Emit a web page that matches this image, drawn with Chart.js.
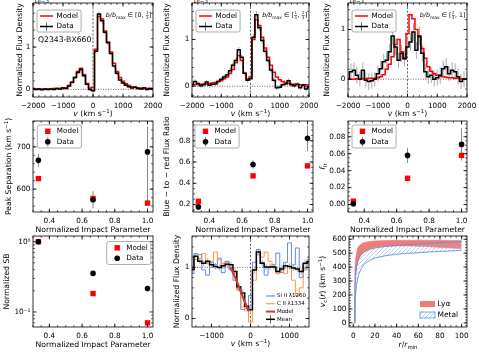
<!DOCTYPE html>
<html>
<head>
<meta charset="utf-8">
<title>Q2343-BX660 profiles</title>
<script src="https://cdn.jsdelivr.net/npm/chart.js@4.4.1/dist/chart.umd.min.js"></script>
<style>
  html, body { margin: 0; padding: 0; background: #fff; }
  body { position: relative; width: 479px; height: 352px; overflow: hidden; }
  canvas { position: absolute; }
</style>
</head>
<body>
<script>
// ---- values ----
const velocity = [-2000, -1900, -1800, -1700, -1600, -1500, -1400, -1300, -1200, -1100, -1000, -900, -800, -700, -600, -500, -400, -300, -200, -100, 0, 100, 200, 300, 400, 500, 600, 700, 800, 900, 1000, 1100, 1200, 1300, 1400, 1500, 1600, 1700, 1800, 1900, 2000];

// flux densities in units of 1e-3
const fluxData1 = [0.02, 0.00, 0.01, -0.01, 0.01, 0.00, 0.01, 0.00, 0.02, 0.01, 0.03, 0.02, 0.08, 0.17, 0.28, 0.40, 0.47, 0.32, 0.12, 0.00, -0.03, 0.90, 1.78, 1.62, 1.35, 1.10, 0.85, 0.55, 0.38, 0.22, 0.15, 0.10, 0.06, 0.03, 0.05, 0.02, 0.01, 0.03, 0.00, 0.02, 0.01];
const fluxModel1 = [0.01, 0.01, 0.01, 0.01, 0.01, 0.01, 0.01, 0.02, 0.02, 0.02, 0.03, 0.04, 0.09, 0.16, 0.28, 0.42, 0.50, 0.35, 0.14, 0.03, 0.05, 0.95, 1.72, 1.66, 1.38, 1.12, 0.88, 0.62, 0.42, 0.28, 0.19, 0.13, 0.09, 0.06, 0.05, 0.04, 0.03, 0.03, 0.02, 0.02, 0.02];
const fluxErr1 = [0.03, 0.03, 0.03, 0.03, 0.03, 0.03, 0.03, 0.03, 0.03, 0.03, 0.03, 0.03, 0.03, 0.03, 0.04, 0.04, 0.04, 0.04, 0.03, 0.03, 0.03, 0.05, 0.06, 0.06, 0.05, 0.05, 0.04, 0.04, 0.04, 0.03, 0.03, 0.03, 0.03, 0.03, 0.03, 0.03, 0.03, 0.03, 0.03, 0.03, 0.03];

const fluxData2 = [0.03, 0.10, 0.06, 0.01, 0.03, 0.09, 0.02, 0.04, 0.05, 0.10, 0.15, 0.20, 0.24, 0.33, 0.45, 0.55, 0.78, 0.62, 0.28, 0.13, 0.16, 1.05, 1.53, 1.25, 0.98, 0.75, 0.55, 0.35, 0.13, -0.03, -0.02, 0.03, 0.05, 0.12, 0.03, 0.01, 0.04, -0.03, 0.02, -0.06, -0.02];
const fluxModel2 = [0.03, 0.03, 0.04, 0.04, 0.05, 0.05, 0.06, 0.07, 0.08, 0.10, 0.12, 0.16, 0.20, 0.27, 0.36, 0.50, 0.66, 0.55, 0.28, 0.15, 0.20, 1.00, 1.42, 1.30, 1.05, 0.82, 0.62, 0.45, 0.30, 0.20, 0.14, 0.10, 0.08, 0.06, 0.05, 0.04, 0.04, 0.03, 0.03, 0.03, 0.03];
const fluxErr2 = [0.05, 0.05, 0.05, 0.05, 0.05, 0.05, 0.05, 0.05, 0.05, 0.05, 0.05, 0.05, 0.05, 0.06, 0.06, 0.06, 0.06, 0.06, 0.05, 0.05, 0.05, 0.07, 0.08, 0.07, 0.07, 0.06, 0.06, 0.05, 0.05, 0.05, 0.05, 0.05, 0.05, 0.05, 0.05, 0.05, 0.05, 0.05, 0.05, 0.05, 0.05];

const fluxData3 = [0.00, 0.15, 0.18, 0.08, 0.00, 0.18, -0.02, -0.05, -0.03, 0.00, 0.11, 0.21, 0.35, 0.38, 0.55, 0.87, 0.65, 0.38, 0.52, 0.42, 0.65, 0.75, 0.95, 0.58, 0.87, 0.52, 0.15, 0.05, 0.08, 0.00, 0.03, 0.08, 0.21, 0.25, 0.11, 0.18, 0.15, 0.05, -0.05, 0.00, 0.00];
const fluxModel3 = [0.00, 0.00, 0.00, 0.01, 0.01, 0.01, 0.01, 0.02, 0.02, 0.02, 0.03, 0.05, 0.09, 0.20, 0.30, 0.45, 0.70, 0.80, 0.55, 0.40, 0.92, 1.30, 1.22, 1.00, 0.85, 0.62, 0.42, 0.25, 0.16, 0.11, 0.08, 0.06, 0.05, 0.04, 0.03, 0.03, 0.02, 0.02, 0.01, 0.01, 0.01];
const fluxErr3 = [0.15, 0.16, 0.15, 0.17, 0.15, 0.16, 0.15, 0.17, 0.16, 0.15, 0.16, 0.17, 0.16, 0.17, 0.16, 0.18, 0.17, 0.16, 0.17, 0.16, 0.17, 0.18, 0.18, 0.17, 0.18, 0.17, 0.16, 0.15, 0.16, 0.15, 0.16, 0.17, 0.16, 0.17, 0.15, 0.16, 0.17, 0.16, 0.15, 0.16, 0.15];

const impactParam = [0.333, 0.667, 1.0];
const peakSepModel = [625, 578, 567];
const peakSepData = [668, 575, 688];
const peakSepErrLo = [16, 20, 125];
const peakSepErrHi = [16, 20, 60];
const ratioModel = [0.231, 0.47, 0.564];
const ratioData = [0.178, 0.577, 0.823];
const ratioErr = [0.015, 0.04, 0.12];
const flrModel = [0.004, 0.031, 0.058];
const flrData = [0.001, 0.058, 0.071];
const flrErrLo = [0.003, 0.009, 0.019];
const flrErrHi = [0.003, 0.009, 0.019];
const sbModel = [1.0, 0.183, 0.070];
const sbData = [1.0, 0.354, 0.216];

const metalVel = [-1500, -1400, -1300, -1200, -1100, -1000, -900, -800, -700, -600, -500, -400, -300, -200, -100, 0, 100, 200, 300, 400, 500, 600, 700, 800, 900, 1000, 1100, 1200, 1300, 1400, 1500];
const siII = [0.88, 1.27, 1.25, 0.95, 0.85, 1.10, 1.05, 1.18, 0.90, 1.12, 0.95, 0.75, 0.58, 0.18, 0.20, 0.45, 1.10, 1.35, 1.10, 0.85, 1.00, 1.05, 1.28, 0.90, 1.10, 1.48, 1.05, 1.38, 0.80, 0.95, 1.15];
const cII = [0.95, 1.15, 1.18, 1.27, 1.08, 1.12, 1.30, 1.15, 1.08, 1.10, 0.98, 0.88, 0.55, 0.23, 0.15, -0.07, 0.75, 1.25, 1.20, 1.30, 1.12, 1.02, 0.88, 0.95, 0.88, 1.02, 0.75, 0.45, 0.60, 0.98, 1.08];
const metalMean = [0.96, 1.22, 1.12, 1.08, 1.12, 1.05, 1.02, 1.00, 1.03, 1.06, 1.05, 0.92, 0.62, 0.50, 0.24, 0.17, 0.95, 1.30, 1.08, 1.01, 1.01, 1.01, 0.92, 0.97, 1.03, 1.02, 0.99, 0.97, 0.92, 1.08, 1.11];
const metalErr = [0.07, 0.06, 0.06, 0.06, 0.06, 0.06, 0.06, 0.06, 0.06, 0.06, 0.06, 0.06, 0.07, 0.07, 0.07, 0.07, 0.07, 0.07, 0.06, 0.06, 0.06, 0.06, 0.06, 0.06, 0.06, 0.06, 0.06, 0.06, 0.06, 0.07, 0.07];
const absModelVel = [-520, -450, -380, -300, -220, -150, -80, -40];
const absModelFlux = [1.01, 0.90, 0.78, 0.63, 0.47, 0.33, 0.20, 0.14];

const radius = [1, 1.5, 2, 3, 4, 5, 7, 10, 15, 20, 30, 40, 50, 60, 70, 80, 90, 100];
const lyaHigh = [0, 380, 450, 500, 535, 550, 565, 576, 584, 588, 591, 592, 593, 593, 593, 592, 591, 590];
const lyaLow = [0, 250, 320, 390, 425, 455, 485, 508, 530, 542, 549, 552, 552, 550, 546, 541, 537, 532];
const metalHigh = [0, 250, 330, 400, 440, 462, 490, 510, 527, 537, 548, 555, 560, 565, 570, 575, 579, 583];
const metalLow = [0, 120, 190, 270, 315, 345, 385, 420, 448, 465, 482, 492, 498, 503, 508, 512, 516, 520];

// tick positions and labels
const velTicks = [-2000, -1000, 0, 1000, 2000];
const fluxTicks = [0, 1];
const impactTicks = [0.4, 0.6, 0.8, 1.0];
const peakSepTicks = [600, 700];
const ratioTicks = [0.2, 0.4, 0.6, 0.8];
const flrTicks = [0.00, 0.02, 0.04, 0.06, 0.08];
const sbTicks = [0.1, 1];
const sbTickLabels = ['10\u207b\u00b9', '10\u2070'];
const metalVelTicks = [-1000, 0, 1000];
const radiusTicks = [0, 20, 40, 60, 80, 100];
const vcTicks = [0, 100, 200, 300, 400, 500, 600];

// ---- drawing ----
const FONT = "'DejaVu Sans', sans-serif";
const TICK_SIZE = 7.3;
const LABEL_SIZE = 7.7;
const RED = '#ff0000';
Chart.defaults.font.family = FONT;
Chart.defaults.color = '#000';

const MINUS = '\u2212';
const fmt = digits => v => (v < -1e-9 ? MINUS : '') + Math.abs(v).toFixed(digits);

function toXY(xs, ys) {
    return xs.map((x, i) => ({x: x, y: ys[i]}));
}

function range(a, b, step) {
    const out = [];
    for (let v = a; v <= b + step / 1000; v += step) out.push(Math.round(v * 1e6) / 1e6);
    return out;
}

function hatch(color) {
    const c = document.createElement('canvas');
    c.width = 4; c.height = 4;
    const g = c.getContext('2d');
    g.strokeStyle = color;
    g.lineWidth = 0.7;
    g.beginPath();
    g.moveTo(0, 4); g.lineTo(4, 0);
    g.moveTo(-1, 1); g.lineTo(1, -1);
    g.moveTo(3, 5); g.lineTo(5, 3);
    g.stroke();
    return g.createPattern(c, 'repeat');
}

// text with italic / sub / sup / fraction pieces
function drawRuns(ctx, runs, x, y, size, align, angle) {
    ctx.save();
    ctx.translate(x, y);
    if (angle) ctx.rotate(angle);
    ctx.textBaseline = 'middle';
    ctx.fillStyle = '#000';
    const pieces = runs.map(([text, style]) => {
        let fs = size, dy = 0, w;
        if (style === 'sub') { fs = size * 0.7; dy = size * 0.3; }
        if (style === 'sup') { fs = size * 0.7; dy = -size * 0.35; }
        if (style === 'frac') {
            fs = size * 0.6;
            ctx.font = fs + 'px ' + FONT;
            const [n, d] = text.split('/');
            w = Math.max(ctx.measureText(n).width, ctx.measureText(d).width) + 1.2;
        } else {
            ctx.font = (style === 'i' ? 'italic ' : '') + fs + 'px ' + FONT;
            w = ctx.measureText(text).width;
        }
        return {text, style, fs, dy, w};
    });
    const total = pieces.reduce((s, p) => s + p.w, 0);
    let cx = align === 'center' ? -total / 2 : (align === 'right' ? -total : 0);
    pieces.forEach(p => {
        if (p.style === 'frac') {
            const [n, d] = p.text.split('/');
            ctx.font = p.fs + 'px ' + FONT;
            ctx.textAlign = 'center';
            ctx.fillText(n, cx + p.w / 2, -p.fs * 0.6);
            ctx.fillText(d, cx + p.w / 2, p.fs * 0.75);
            ctx.fillRect(cx + 0.3, -0.2, p.w - 0.6, 0.5);
        } else {
            ctx.font = (p.style === 'i' ? 'italic ' : '') + p.fs + 'px ' + FONT;
            ctx.textAlign = 'left';
            ctx.fillText(p.text, cx, p.dy);
        }
        cx += p.w;
    });
    ctx.restore();
}

function roundBox(ctx, x, y, w, h, r) {
    ctx.beginPath();
    ctx.moveTo(x + r, y);
    ctx.arcTo(x + w, y, x + w, y + h, r);
    ctx.arcTo(x + w, y + h, x, y + h, r);
    ctx.arcTo(x, y + h, x, y, r);
    ctx.arcTo(x, y, x + w, y, r);
    ctx.closePath();
}

function drawHandle(ctx, it, ox, iy) {
    ctx.setLineDash([]);
    if (it.kind === 'line' || it.kind === 'lineErr') {
        if (it.kind === 'lineErr') {
            const mid = (it.x0 + it.x1) / 2 - ox;
            ctx.strokeStyle = '#666';
            ctx.lineWidth = 1;
            ctx.beginPath(); ctx.moveTo(mid, iy - 4); ctx.lineTo(mid, iy + 4); ctx.stroke();
        }
        ctx.strokeStyle = it.color;
        ctx.lineWidth = it.width || 1.5;
        ctx.beginPath(); ctx.moveTo(it.x0 - ox, iy); ctx.lineTo(it.x1 - ox, iy); ctx.stroke();
    } else if (it.kind === 'square') {
        ctx.fillStyle = it.color;
        ctx.fillRect(it.mx - ox - 2.7, iy - 2.7, 5.4, 5.4);
    } else if (it.kind === 'dot' || it.kind === 'dotErr') {
        if (it.kind === 'dotErr') {
            ctx.strokeStyle = '#888';
            ctx.lineWidth = 1;
            ctx.beginPath(); ctx.moveTo(it.mx - ox, iy - 5); ctx.lineTo(it.mx - ox, iy + 5); ctx.stroke();
        }
        ctx.fillStyle = it.color;
        ctx.beginPath(); ctx.arc(it.mx - ox, iy, 2.8, 0, Math.PI * 2); ctx.fill();
    } else if (it.kind === 'patch') {
        ctx.fillStyle = it.color;
        ctx.fillRect(it.x0 - ox, iy - 3, it.x1 - it.x0, 6);
        if (it.edge) {
            ctx.strokeStyle = it.edge;
            ctx.lineWidth = 0.8;
            ctx.strokeRect(it.x0 - ox, iy - 3, it.x1 - it.x0, 6);
        }
    }
}

const panelDecor = {
    id: 'panelDecor',
    beforeDatasetsDraw(chart, args, opts) {
        const {ctx, chartArea: a} = chart;
        const xs = chart.scales.x, ys = chart.scales.y;
        ctx.save();
        ctx.beginPath();
        ctx.rect(a.left, a.top, a.right - a.left, a.bottom - a.top);
        ctx.clip();
        (opts.refLines || []).forEach(r => {
            ctx.strokeStyle = r.color;
            ctx.lineWidth = 0.8;
            ctx.setLineDash(r.dash);
            ctx.beginPath();
            if (r.axis === 'x') {
                const px = xs.getPixelForValue(r.value);
                ctx.moveTo(px, a.top); ctx.lineTo(px, a.bottom);
            } else {
                const py = ys.getPixelForValue(r.value);
                ctx.moveTo(a.left, py); ctx.lineTo(a.right, py);
            }
            ctx.stroke();
        });
        ctx.setLineDash([]);
        (opts.errorBars || []).forEach(e => {
            const pts = chart.data.datasets[e.dataset].data;
            ctx.strokeStyle = e.color;
            ctx.lineWidth = e.width;
            pts.forEach((p, i) => {
                const px = xs.getPixelForValue(p.x);
                const lo = e.lo[i], hi = e.hi ? e.hi[i] : e.lo[i];
                ctx.beginPath();
                ctx.moveTo(px, ys.getPixelForValue(p.y - lo));
                ctx.lineTo(px, ys.getPixelForValue(p.y + hi));
                ctx.stroke();
            });
        });
        ctx.restore();
    },
    afterDraw(chart, args, opts) {
        const {ctx, chartArea: a} = chart;
        const xs = chart.scales.x, ys = chart.scales.y;
        const ox = opts.ox, oy = opts.oy;
        ctx.save();
        ctx.strokeStyle = '#000';
        ctx.lineWidth = 0.8;
        ctx.strokeRect(a.left, a.top, a.right - a.left, a.bottom - a.top);

        // ticks pointing inwards on all four sides
        const marks = (scale, values, len) => {
            ctx.beginPath();
            values.forEach(v => {
                if (v < scale.min || v > scale.max) return;
                const p = scale.getPixelForValue(v);
                if (scale.isHorizontal()) {
                    ctx.moveTo(p, a.bottom); ctx.lineTo(p, a.bottom - len);
                    ctx.moveTo(p, a.top); ctx.lineTo(p, a.top + len);
                } else {
                    ctx.moveTo(a.left, p); ctx.lineTo(a.left + len, p);
                    ctx.moveTo(a.right, p); ctx.lineTo(a.right - len, p);
                }
            });
            ctx.stroke();
        };
        marks(xs, xs.ticks.map(t => t.value), 3.5);
        marks(ys, ys.ticks.map(t => t.value), 3.5);
        ctx.lineWidth = 0.6;
        marks(xs, opts.minorX || [], 2);
        marks(ys, opts.minorY || [], 2);

        const lg = opts.legend;
        if (lg) {
            ctx.font = lg.size + 'px ' + FONT;
            const tw = Math.max(...lg.items.map(it => ctx.measureText(it.label).width));
            if (lg.frame) {
                roundBox(ctx, lg.left - ox, lg.top - oy, lg.textX + tw + 3 - lg.left, lg.bottom - lg.top, 2);
                ctx.fillStyle = 'rgba(255,255,255,0.85)';
                ctx.fill();
                ctx.strokeStyle = '#999';
                ctx.lineWidth = 0.8;
                ctx.stroke();
            }
            lg.items.forEach(it => {
                const iy = it.y - oy;
                drawHandle(ctx, it, ox, iy);
                ctx.fillStyle = '#000';
                ctx.font = lg.size + 'px ' + FONT;
                ctx.textBaseline = 'middle';
                ctx.textAlign = 'left';
                ctx.fillText(it.label, lg.textX - ox, iy);
            });
        }
        (opts.texts || []).forEach(t => drawRuns(ctx, t.runs, t.x - ox, t.y - oy, t.size, t.align, t.angle));
        ctx.restore();
    }
};

// one canvas per panel; box = plot area [left, top, right, bottom] in page pixels
function makePanel(box, type, datasets, xa, ya, decor) {
    const [L, T, R, B] = box;
    const ML = 40, MT = 6, MR = 14, MB = 24;
    const ox = L - ML, oy = T - MT;
    const w = R - L + ML + MR, h = B - T + MT + MB;
    const canvas = document.createElement('canvas');
    canvas.width = w;
    canvas.height = h;
    canvas.style.left = ox + 'px';
    canvas.style.top = oy + 'px';
    canvas.style.width = w + 'px';
    canvas.style.height = h + 'px';
    document.body.appendChild(canvas);

    const axis = (a, horizontal) => ({
        type: a.type || 'linear',
        min: a.min,
        max: a.max,
        grid: {display: false, drawTicks: false},
        border: {display: false},
        ticks: {
            color: '#000', font: {size: TICK_SIZE}, padding: horizontal ? 4.5 : 2.5,
            autoSkip: false, maxRotation: 0, callback: v => a.format(v)
        },
        title: a.title ? {
            display: true, text: a.title, color: '#000', font: {size: LABEL_SIZE},
            padding: horizontal ? {top: 0, bottom: (B + MB) - a.titleAt - LABEL_SIZE * 0.6}
                                : {top: a.titleAt - ox - LABEL_SIZE * 0.6, bottom: 0}
        } : {display: false},
        afterBuildTicks: s => { s.ticks = a.ticks.map(v => ({value: v})); },
        afterFit: s => {
            if (horizontal) s.height = MB; else s.width = ML;
            s.paddingLeft = 0; s.paddingRight = 0; s.paddingTop = 0; s.paddingBottom = 0;
        }
    });

    decor.ox = ox;
    decor.oy = oy;
    return new Chart(canvas.getContext('2d'), {
        type: type,
        data: {datasets: datasets},
        options: {
            responsive: false,
            animation: false,
            events: [],
            layout: {padding: {left: 0, top: MT, right: MR, bottom: 0}},
            plugins: {legend: {display: false}, tooltip: {enabled: false}, panelDecor: decor},
            scales: {x: axis(xa, true), y: axis(ya, false)}
        },
        plugins: [panelDecor]
    });
}

function stepLine(label, xs, ys, color, width, order) {
    return {label, data: toXY(xs, ys), borderColor: color, backgroundColor: color, borderWidth: width,
        stepped: 'middle', pointRadius: 0, fill: false, order: order};
}

function markers(label, xs, ys, style, radius, color, order) {
    return {label, data: toXY(xs, ys), pointStyle: style, pointRadius: radius, backgroundColor: color,
        borderColor: color, borderWidth: 0, order: order};
}

function spectrumLegend(left) {
    return {frame: true, left: left, top: 10, bottom: 32, textX: left + 19.5, size: 7.2, items: [
        {label: 'Model', kind: 'line', color: RED, x0: left + 3, x1: left + 16, y: 16},
        {label: 'Data', kind: 'lineErr', color: '#000', x0: left + 3, x1: left + 16, y: 26.5}
    ]};
}

function pointLegend(left, top, dataKind) {
    return {frame: true, left: left, top: top, bottom: top + 23, textX: left + 19.5, size: 7.2, items: [
        {label: 'Model', kind: 'square', color: RED, mx: left + 10.5, y: top + 6.3},
        {label: 'Data', kind: dataKind, color: '#000', mx: left + 10.5, y: top + 16.8}
    ]};
}

const velTitle = [['v', 'i'], [' (km s', ''], [MINUS + '1', 'sup'], [')', '']];
const refZero = [
    {axis: 'y', value: 0, dash: [1, 1.5], color: '#444'},
    {axis: 'x', value: 0, dash: [2.2, 1.6], color: '#444'}
];

function spectrumPanel(box, model, data, err, yMin, yMax, yTitleAt, binRuns, extraTexts) {
    const [L, T, R, B] = box;
    const texts = [
        {runs: velTitle, x: (L + R) / 2, y: B + 17.5, size: LABEL_SIZE, align: 'center'},
        {runs: [['1e' + MINUS + '3', '']], x: L + 1, y: T - 1, size: 5.5, align: 'left'},
        {runs: binRuns, x: R - 1.5, y: T + 12.5, size: 6.3, align: 'right'}
    ].concat(extraTexts || []);
    makePanel(box, 'line', [
        stepLine('Model', velocity, model, RED, 1.5, 2),
        stepLine('Data', velocity, data, '#000', 1.5, 1)
    ], {
        min: -2000, max: 2000, ticks: velTicks, format: fmt(0)
    }, {
        min: yMin, max: yMax, ticks: fluxTicks, format: fmt(0),
        title: 'Normalized Flux Density', titleAt: yTitleAt
    }, {
        minorX: range(-2000, 2000, 200), minorY: range(-0.4, 2, 0.2),
        refLines: refZero,
        errorBars: [{dataset: 1, lo: err, color: '#aaaaaa', width: 1}],
        legend: spectrumLegend(L + 4),
        texts: texts
    });
}

const bRun = [['b/b', 'i'], ['max', 'sub']];
spectrumPanel([33, 3, 153, 97], fluxModel1, fluxData1, fluxErr1, -0.18, 2.04, 20,
    bRun.concat([[' \u2208 [0, ', ''], ['1/3', 'frac'], [']', '']]),
    [{runs: [['Q2343-BX660', '']], x: 38, y: 40, size: 7.7, align: 'left'}]);
spectrumPanel([192, 3, 309, 97], fluxModel2, fluxData2, fluxErr2, -0.23, 1.78, 167.3,
    bRun.concat([[' \u2208 [', ''], ['1/3', 'frac'], [', ', ''], ['2/3', 'frac'], [']', '']]));
spectrumPanel([348, 3, 467, 97], fluxModel3, fluxData3, fluxErr3, -0.36, 1.535, 327.3,
    bRun.concat([[' \u2208 [', ''], ['2/3', 'frac'], [', 1]', '']]));

// ---- second row: peak separation, blue-to-red ratio, f_lr ----
function impactPanel(box, model, data, errLo, errHi, ya, titleRuns, legendTop, dataKind, type) {
    const [L, T, R, B] = box;
    const ds = [
        markers('Model', impactParam, model, 'rect', 3.8, RED, 2),
        markers('Data', impactParam, data, 'circle', 2.8, '#000', 1)
    ];
    ya.type = type;
    makePanel(box, 'scatter', ds, {
        min: 0.3, max: 1.0335, ticks: impactTicks, format: fmt(1),
        title: 'Normalized Impact Parameter', titleAt: B + 18.3
    }, ya, {
        minorX: range(0.3, 1.0, 0.05), minorY: ya.minor,
        errorBars: errLo ? [{dataset: 1, lo: errLo, hi: errHi, color: '#888', width: 1}] : [],
        legend: pointLegend(legendTop[0], legendTop[1], dataKind),
        texts: titleRuns ? [{runs: titleRuns, x: ya.customTitleAt, y: (T + B) / 2, size: LABEL_SIZE, align: 'center', angle: -Math.PI / 2}] : []
    });
}

impactPanel([33, 121, 153, 212], peakSepModel, peakSepData, peakSepErrLo, peakSepErrHi,
    {min: 546, max: 761, ticks: peakSepTicks, format: fmt(0), minor: range(540, 760, 20), customTitleAt: 9.3},
    [['Peak Separation (km s', ''], [MINUS + '1', 'sup'], [')', '']], [37.3, 125], 'dotErr', 'linear');
impactPanel([193, 121, 313, 212], ratioModel, ratioData, ratioErr, ratioErr,
    {min: 0.13, max: 0.986, ticks: ratioTicks, format: fmt(1), minor: range(0.15, 0.95, 0.05),
     title: 'Blue ' + MINUS + ' to ' + MINUS + ' red Flux Ratio', titleAt: 167.3},
    null, [195, 125], 'dotErr', 'linear');
impactPanel([348, 121, 467, 212], flrModel, flrData, flrErrLo, flrErrHi,
    {min: -0.0088, max: 0.0986, ticks: flrTicks, format: fmt(2), minor: range(-0.005, 0.095, 0.005), customTitleAt: 323.5},
    [['f', 'i'], ['lr', 'sub']], [352, 125], 'dotErr', 'linear');

// ---- third row ----
impactPanel([33, 236, 153, 327], sbModel, sbData, null, null,
    {min: 0.0611, max: 1.206, ticks: sbTicks, format: v => sbTickLabels[sbTicks.indexOf(v)] || '',
     minor: [0.07, 0.08, 0.09, 0.2, 0.3, 0.4, 0.5, 0.6, 0.7, 0.8, 0.9],
     title: 'Normalized SB', titleAt: 7.3},
    null, [106.7, 241.5], 'dot', 'logarithmic');

// metal absorption lines
makePanel([192, 236, 309, 327], 'line', [
    {label: 'Model', data: toXY(absModelVel, absModelFlux), borderColor: '#d03c32', borderWidth: 2.2,
     pointRadius: 0, fill: false, order: 0},
    stepLine('Mean', metalVel, metalMean, '#000', 1.5, 1),
    stepLine('C II \u03bb1334', metalVel, cII, '#ff8a33', 0.9, 2),
    stepLine('Si II \u03bb1260', metalVel, siII, '#4f7df2', 0.9, 3)
], {
    min: -1500, max: 1500, ticks: metalVelTicks, format: fmt(0)
}, {
    min: -0.165, max: 1.614, ticks: fluxTicks, format: fmt(0),
    title: 'Normalized Flux Density', titleAt: 176.7
}, {
    minorX: range(-1400, 1400, 200), minorY: range(-0.2, 1.6, 0.2),
    refLines: [
        {axis: 'y', value: 1, dash: [1, 1.5], color: '#555'},
        {axis: 'x', value: 0, dash: [2.2, 1.6], color: '#444'}
    ],
    errorBars: [{dataset: 1, lo: metalErr, color: '#aaaaaa', width: 1}],
    legend: {frame: false, textX: 277, size: 5.5, items: [
        {label: 'Si II \u03bb1260', kind: 'line', color: '#4f7df2', width: 1, x0: 266, x1: 275, y: 296},
        {label: 'C II \u03bb1334', kind: 'line', color: '#ff8a33', width: 1, x0: 266, x1: 275, y: 303.8},
        {label: 'Model', kind: 'line', color: '#d03c32', width: 2, x0: 266, x1: 275, y: 311.6},
        {label: 'Mean', kind: 'lineErr', color: '#000', width: 1.5, x0: 266, x1: 275, y: 319.3}
    ]},
    texts: [{runs: velTitle, x: 250.5, y: 344.5, size: LABEL_SIZE, align: 'center'}]
});

// circular velocity bands
const metalHatch = hatch('#9dbde6');
makePanel([349, 236, 467, 327], 'line', [
    {label: 'Ly\u03b1 low', data: toXY(radius, lyaLow), borderColor: '#f47a7a', borderWidth: 0.6,
     pointRadius: 0, fill: false, order: 2},
    {label: 'Ly\u03b1', data: toXY(radius, lyaHigh), borderColor: '#f47a7a', borderWidth: 0.6,
     backgroundColor: '#f47a7a', pointRadius: 0, fill: '-1', order: 2},
    {label: 'Metal low', data: toXY(radius, metalLow), borderColor: '#5a94da', borderWidth: 0.9,
     pointRadius: 0, fill: false, order: 1},
    {label: 'Metal', data: toXY(radius, metalHigh), borderColor: '#5a94da', borderWidth: 0.9,
     backgroundColor: metalHatch, pointRadius: 0, fill: '-1', order: 1}
], {
    min: -3.95, max: 104.95, ticks: radiusTicks, format: fmt(0)
}, {
    min: -30, max: 623, ticks: vcTicks, format: fmt(0)
}, {
    minorX: range(0, 100, 5), minorY: range(-20, 620, 20),
    legend: {frame: false, textX: 437.5, size: 7.5, items: [
        {label: 'Ly\u03b1', kind: 'patch', color: '#f47a7a', x0: 420, x1: 435, y: 304},
        {label: 'Metal', kind: 'patch', color: metalHatch, edge: '#5a94da', x0: 420, x1: 435, y: 315}
    ]},
    texts: [
        {runs: [['r', 'i'], ['/', ''], ['r', 'i'], ['min', 'sub']], x: 408, y: 345, size: LABEL_SIZE, align: 'center'},
        {runs: [['v', 'i'], ['c', 'sub'], ['(', ''], ['r', 'i'], [') (km s', ''], [MINUS + '1', 'sup'], [')', '']],
         x: 323.5, y: 281.5, size: LABEL_SIZE, align: 'center', angle: -Math.PI / 2}
    ]
});
</script>
</body>
</html>
